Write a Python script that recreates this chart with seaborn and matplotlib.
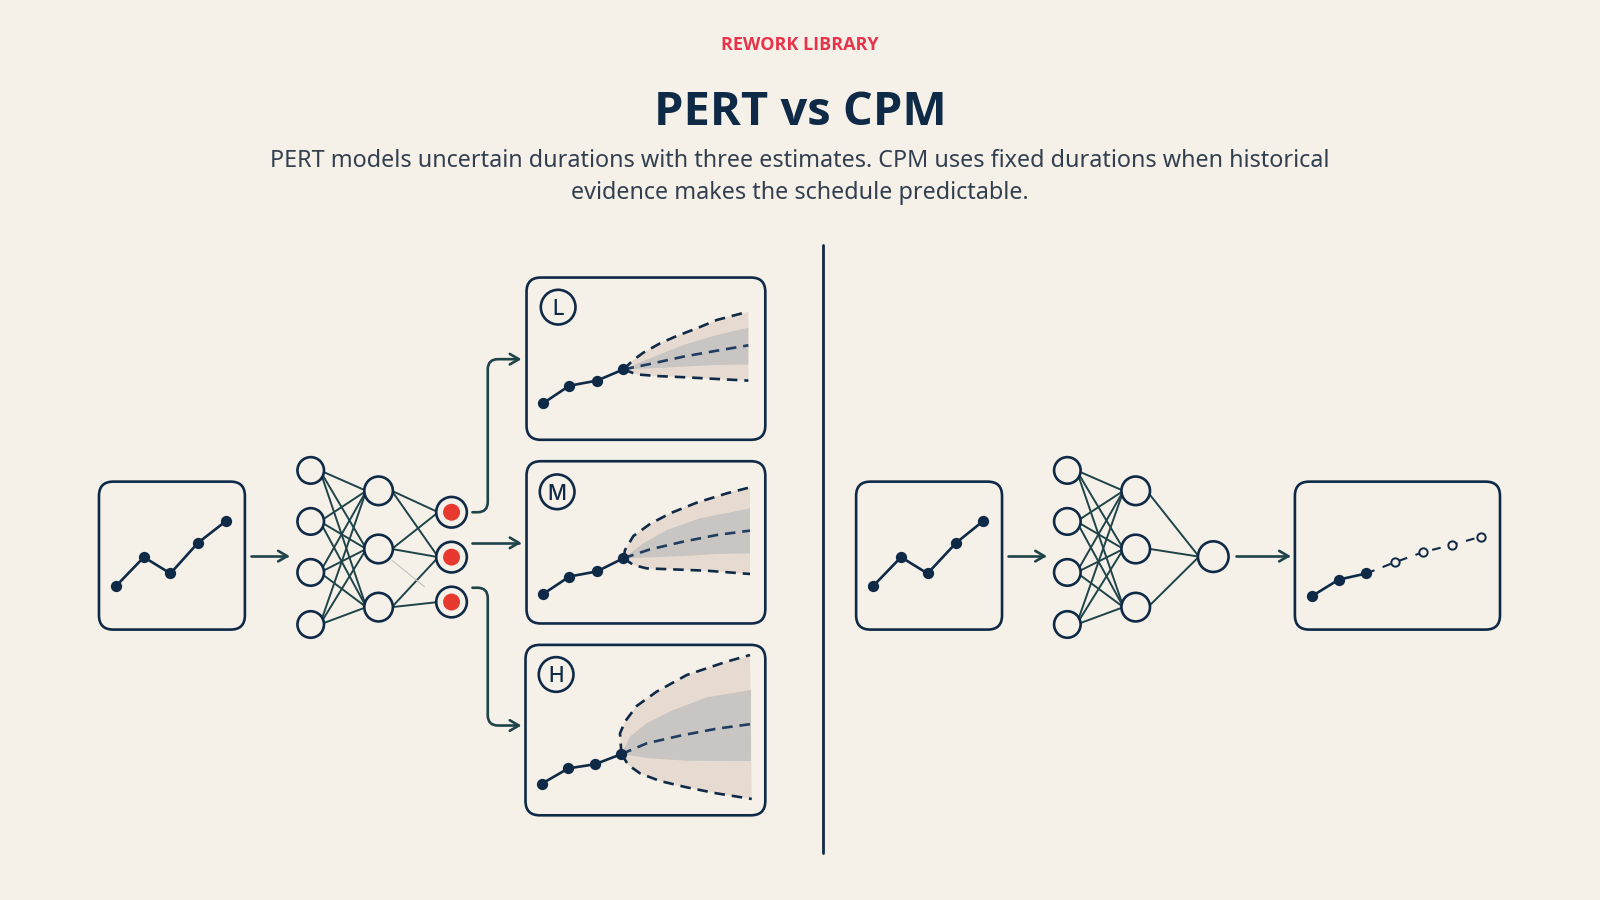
import numpy as np
import pandas as pd
import seaborn as sns
import matplotlib
matplotlib.use("Agg")
import matplotlib.pyplot as plt
from matplotlib.patches import FancyBboxPatch, Circle, FancyArrowPatch
from matplotlib.path import Path

BG = "#F5F1E9"; NAVY = "#0F2A47"; EDGE = "#1E4349"; RED = "#E8392E"
EYEBROW = "#E8344A"; SUB = "#333F4F"; OUTER = "#E7DBD1"; INNER = "#C9C5C2"

EYEBROW_TEXT = "REWORK LIBRARY"
TITLE_TEXT = "PERT vs CPM"
SUB_LINE1 = "PERT models uncertain durations with three estimates. CPM uses fixed durations when historical"
SUB_LINE2 = "evidence makes the schedule predictable."

# input sparkline
input_x_left = [114, 141, 167, 194, 221]
input_x_right = [856, 883, 909, 937, 963]
input_y = [574, 546, 562, 532, 511]

# network layers
L1_Y = [461, 511, 561, 612]
L2_Y = [481, 538, 595]
L3_Y = [502, 546, 590]
L2_L3_PAIRS = [(0, 0), (0, 1), (1, 0), (1, 1), (2, 1), (2, 2)]
OUT_START_Y = [485, 538, 593]

# panel L
L_hist_x = [532.5, 558, 585, 611]
L_hist_y = [395, 378, 373, 362]
L_up_x = [611, 620.7, 630.5, 646.8, 663.1, 682.8, 702.4, 733.4]
L_up_y = [362, 352.8, 345.6, 336.5, 329.3, 321.8, 313.6, 305.4]
L_in_up_x = [611, 637, 669.7, 702.4, 733.4]
L_in_up_y = [362, 351.2, 338.1, 328.3, 321.1]
L_mid_x = [611, 637, 669.7, 702.4, 733.4]
L_mid_y = [362, 356.7, 349.5, 343.7, 338.4]
L_in_lo_x = [611, 637, 669.7, 702.4, 733.4]
L_in_lo_y = [362, 361, 359.3, 357.7, 357.1]
L_lo_x = [611, 623.9, 643.5, 673, 702.4, 733.4]
L_lo_y = [362, 366.9, 368.5, 369.8, 371.4, 373]

# panel M
M_hist_x = [532.5, 558, 585, 611]
M_hist_y = [582, 565, 560, 547]
M_up_x = [611, 612.5, 620.7, 637, 656.6, 682.8, 712.2, 735]
M_up_y = [547, 539, 525.3, 513.5, 503.1, 492.6, 483.5, 477.6]
M_in_up_x = [611, 630.5, 653.4, 686, 735]
M_in_up_y = [547, 532.5, 519.4, 508, 498.2]
M_mid_x = [611, 637, 669.7, 702.4, 735]
M_mid_y = [547, 538.4, 530.8, 524.3, 520]
M_in_lo_x = [611, 637, 669.7, 702.4, 735]
M_in_lo_y = [547, 546.2, 544.9, 542.9, 542.3]
M_lo_x = [611, 620.7, 633.7, 659.9, 692.6, 735]
M_lo_y = [547, 553.7, 557, 558, 559.3, 562.5]

# panel H
H_hist_x = [531, 557, 583, 609]
H_hist_y = [768, 753, 749, 739]
H_up_x = [609, 607.6, 612.5, 623.9, 643.5, 673, 712.2, 735]
H_up_y = [739, 718.7, 707.2, 691.9, 677.8, 661.5, 648.4, 641.9]
H_in_up_x = [609, 617.4, 633.7, 659.9, 692.6, 736]
H_in_up_y = [739, 721.9, 708.9, 695.8, 683.4, 676.2]
H_mid_x = [609, 633.7, 666.4, 702.4, 736.7]
H_mid_y = [739, 728.5, 721, 714.1, 709.5]
H_in_lo_x = [609, 637, 673, 736]
H_in_lo_y = [739, 743.2, 745.5, 745.8]
H_lo_x = [609, 615.8, 627.2, 646.8, 673, 702.4, 736.7]
H_lo_y = [739, 749.7, 757.9, 765.4, 771.6, 777.5, 783]

# deterministic output
out_solid_x = [1286, 1312, 1339]
out_solid_y = [584, 568, 562]
out_dash_x = [1339, 1367, 1395, 1423, 1451]
out_dash_y = [562, 551, 541, 534, 526]

sns.set_theme(style="white", rc={"axes.facecolor": BG, "figure.facecolor": BG})
plt.rcParams["font.family"] = ["Noto Sans", "DejaVu Sans"]

fig, ax = plt.subplots(figsize=(16, 9), dpi=100)
ax.set_position([0, 0, 1, 1])
ax.set_xlim(0, 1568); ax.set_ylim(882, 0)
ax.axis("off")
fig.patch.set_facecolor(BG)


def rbox(x0, y0, x1, y1):
    ax.add_patch(FancyBboxPatch((x0 + 14, y0 + 14), x1 - x0 - 28, y1 - y0 - 28,
                                boxstyle="round,pad=14,rounding_size=14",
                                fc="none", ec=NAVY, lw=1.9, zorder=3))


def series(x, y, color=NAVY, lw=1.9, dash=None, z=5):
    df = pd.DataFrame({"x": x, "y": y})
    sns.lineplot(data=df, x="x", y="y", ax=ax, sort=False, estimator=None,
                 color=color, lw=lw, zorder=z, legend=False)
    line = ax.lines[-1]
    line.set_solid_joinstyle("round")
    if dash:
        line.set_linestyle((0, dash)); line.set_dash_capstyle("butt")
    ax.set_xlabel(""); ax.set_ylabel("")


def dots(x, y, size=66, fc=NAVY, ec=NAVY, lw=0, z=6):
    sns.scatterplot(x=x, y=y, ax=ax, s=size, color=fc, edgecolor=ec,
                    linewidth=lw, zorder=z, legend=False)
    ax.set_xlabel(""); ax.set_ylabel("")


def node(x, y, r, fill=BG):
    ax.add_patch(Circle((x, y), r, fc=fill, ec=NAVY, lw=1.9, zorder=4))


def arrow(verts, codes=None):
    p = Path(verts, codes) if codes else Path(verts)
    ax.add_patch(FancyArrowPatch(path=p, arrowstyle="->,head_length=6.5,head_width=3.8",
                                 color=EDGE, lw=1.9, shrinkA=0, shrinkB=0, zorder=3))


def link(x0, y0, x1, y1, color=EDGE, lw=1.4):
    ax.plot([x0, x1], [y0, y1], color=color, lw=lw, zorder=2)


def net(x1, x2):
    for a in L1_Y:
        for b in L2_Y:
            link(x1 + 9, a, x2 - 12, b)
    for y in L1_Y:
        node(x1, y, 13)
    for y in L2_Y:
        node(x2, y, 14)


def fan(up_x, up_y, iu_x, iu_y, m_x, m_y, il_x, il_y, lo_x, lo_y, hx, hy):
    ax.fill(list(up_x) + list(lo_x)[::-1], list(up_y) + list(lo_y)[::-1], fc=OUTER, lw=0, zorder=2)
    ax.fill(list(iu_x) + list(il_x)[::-1], list(iu_y) + list(il_y)[::-1], fc=INNER, lw=0, zorder=2.5)
    series(up_x, up_y, dash=(4, 2.6), lw=1.9)
    series(lo_x, lo_y, dash=(4, 2.6), lw=1.9)
    series(m_x, m_y, color="#1F3D60", dash=(4, 2.6), lw=1.9)
    series(hx, hy, lw=1.9)
    dots(hx, hy)


# left
rbox(97, 472, 240, 617)
series(input_x_left, input_y); dots(input_x_left, input_y)
arrow([(246, 545), (284, 545)])
net(304.5, 371)
L3_X = 442.5
for (i, j) in L2_L3_PAIRS:
    link(371 + 13, L2_Y[i], L3_X - 13, L3_Y[j])
link(384, 549, 416, 575, color="#BFC2BD", lw=0.8)
for y in L3_Y:
    node(L3_X, y, 15)
    ax.add_patch(Circle((L3_X, y), 8.3, fc=RED, ec="none", zorder=5))

C = [Path.MOVETO, Path.LINETO, Path.CURVE3, Path.CURVE3, Path.LINETO, Path.CURVE3, Path.CURVE3, Path.LINETO]
arrow([(463, 502), (468, 502), (478, 502), (478, 492), (478, 362), (478, 352), (488, 352), (511, 352)], C)
arrow([(463, 532), (511, 532)])
arrow([(463, 576), (468, 576), (478, 576), (478, 586), (478, 701), (478, 711), (488, 711), (511, 711)], C)

rbox(516, 272, 750, 431); rbox(516, 452, 750, 611); rbox(515, 632, 750, 799)
fan(L_up_x, L_up_y, L_in_up_x, L_in_up_y, L_mid_x, L_mid_y, L_in_lo_x, L_in_lo_y, L_lo_x, L_lo_y, L_hist_x, L_hist_y)
fan(M_up_x, M_up_y, M_in_up_x, M_in_up_y, M_mid_x, M_mid_y, M_in_lo_x, M_in_lo_y, M_lo_x, M_lo_y, M_hist_x, M_hist_y)
fan(H_up_x, H_up_y, H_in_up_x, H_in_up_y, H_mid_x, H_mid_y, H_in_lo_x, H_in_lo_y, H_lo_x, H_lo_y, H_hist_x, H_hist_y)
for (bx, by, t) in [(547, 301, "L"), (546, 482, "M"), (545, 661, "H")]:
    node(bx, by, 17)
    ax.text(bx, by, t, ha="center", va="center_baseline", fontsize=15, color=NAVY, zorder=6,
            family=["Inter", "DejaVu Sans"], fontweight="medium")

# divider
ax.plot([806.5, 806.5], [240, 836], color=NAVY, lw=2, zorder=3)

# right
rbox(839, 472, 982, 617)
series(input_x_right, input_y); dots(input_x_right, input_y)
arrow([(988, 545), (1026, 545)])
for y in OUT_START_Y:
    link(1127, y, 1175, 545.5)
net(1046, 1113)
node(1189, 545.5, 15)
arrow([(1211, 545), (1265, 545)])
rbox(1269, 472, 1470, 617)
series(out_solid_x, out_solid_y); dots(out_solid_x, out_solid_y)
series(out_dash_x, out_dash_y, dash=(4.2, 4.2), lw=1.5, z=4)
dots(out_dash_x[1:], out_dash_y[1:], size=36, fc=BG, ec=NAVY, lw=1.4)

# text
ax.text(784, 44.5, EYEBROW_TEXT, ha="center", va="center", fontsize=13, fontweight="bold",
        color=EYEBROW, family=["Open Sans", "DejaVu Sans"])
ax.text(784, 110, TITLE_TEXT, ha="center", va="center", fontsize=33.8, fontweight="bold",
        color=NAVY, family=["Open Sans", "DejaVu Sans"])
ax.text(784, 158, SUB_LINE1, ha="center", va="center", fontsize=16.8, color=SUB)
ax.text(784, 189.5, SUB_LINE2, ha="center", va="center", fontsize=16.8, color=SUB)

fig.savefig("out.png", dpi=100, facecolor=BG)
